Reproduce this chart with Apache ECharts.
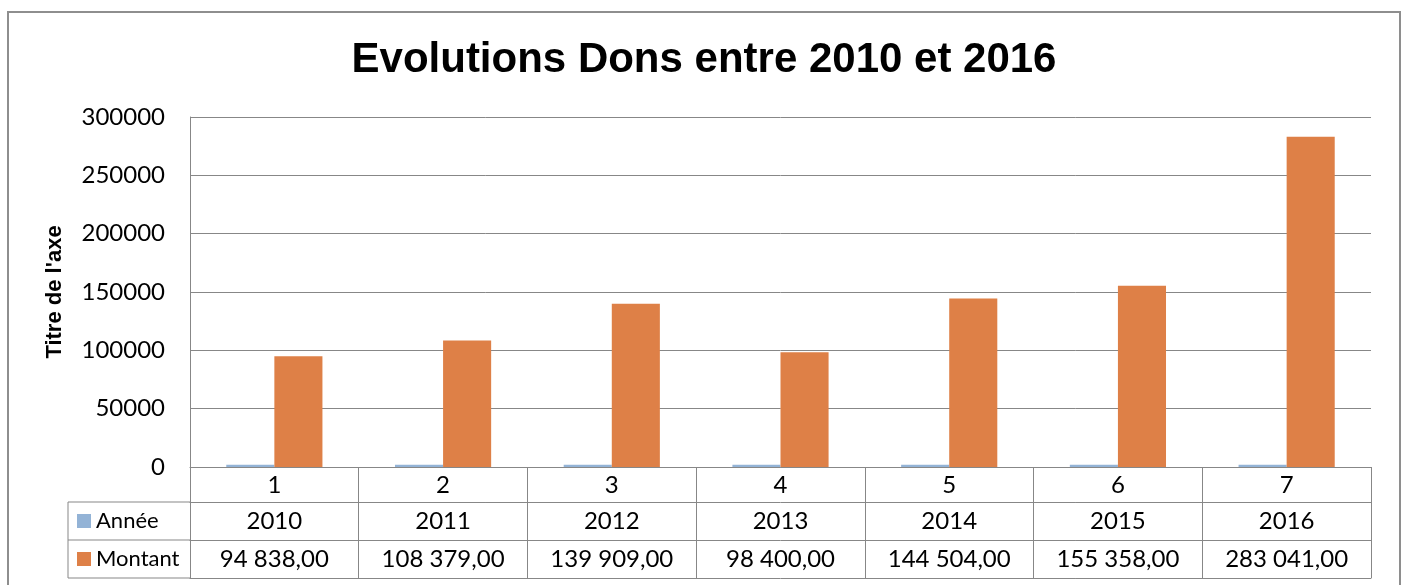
<!DOCTYPE html>
<html>
<head>
<meta charset="utf-8">
<script src="https://cdn.jsdelivr.net/npm/echarts@6/dist/echarts.min.js"></script>
<style>
html,body{margin:0;padding:0;background:#fff;}
#chart{width:1408px;height:585px;}
</style>
</head>
<body>
<div id="chart"></div>
<script>
const categories = ['1', '2', '3', '4', '5', '6', '7'];
const seriesNames = ['Année', 'Montant'];
const anneeValues = [2010, 2011, 2012, 2013, 2014, 2015, 2016];
const montantValues = [94838, 108379, 139909, 98400, 144504, 155358, 283041];
const yTicks = [0, 50000, 100000, 150000, 200000, 250000, 300000];

function frNumber(v) {
  const s = Math.round(v).toString().replace(/\B(?=(\d{3})+(?!\d))/g, ' ');
  return s + ',00';
}
const anneeLabels = anneeValues.map(String);
const montantLabels = montantValues.map(frNumber);

const gridColor = '#878787';
const font = 'Lato';
const labelSize = 24;
const legendSize = 22;

const chart = echarts.init(document.getElementById('chart'));

function tableAxis(data, offset, tickLen, margin, showLabel) {
  return {
    type: 'category',
    gridIndex: 0,
    position: 'bottom',
    offset: offset,
    data: data,
    boundaryGap: true,
    axisLine: { show: true, lineStyle: { color: gridColor, width: 1 } },
    axisTick: { show: tickLen > 0, length: tickLen, inside: false, alignWithLabel: false, interval: 0, lineStyle: { color: gridColor, width: 1 } },
    axisLabel: { show: showLabel, interval: 0, margin: margin, verticalAlign: 'middle', color: '#000', fontFamily: font, fontSize: labelSize },
    splitLine: { show: false }
  };
}

const option = {
  animation: false,
  backgroundColor: '#fff',
  title: {
    text: 'Evolutions Dons entre 2010 et 2016',
    left: 'center',
    top: 34,
    textStyle: { fontFamily: 'Liberation Sans', fontWeight: 'bold', fontSize: 42, color: '#000' }
  },
  grid: { left: 190, right: 37, top: 117, bottom: 118, containLabel: false },
  legend: [
    {
      data: [seriesNames[0]], left: 77, top: 510, padding: 0,
      icon: 'rect', itemWidth: 14, itemHeight: 14, selectedMode: false,
      textStyle: { fontFamily: font, fontSize: legendSize, color: '#000', lineHeight: 22 }
    },
    {
      data: [seriesNames[1]], left: 77, top: 548, padding: 0,
      icon: 'rect', itemWidth: 14, itemHeight: 14, selectedMode: false,
      textStyle: { fontFamily: font, fontSize: legendSize, color: '#000', lineHeight: 22 }
    }
  ],
  xAxis: [
    tableAxis(categories, 0, 35, 18, true),
    tableAxis(anneeLabels, 35, 38, 19, true),
    tableAxis(montantLabels, 73, 38, 19, true),
    tableAxis(categories, 111, 0, 0, false)
  ],
  yAxis: {
    type: 'value',
    min: yTicks[0],
    max: yTicks[yTicks.length - 1],
    interval: yTicks[1] - yTicks[0],
    name: "Titre de l'axe",
    nameLocation: 'middle',
    nameGap: 124,
    nameRotate: 90,
    nameTextStyle: { fontFamily: 'Liberation Sans', fontWeight: 'bold', fontSize: 22, color: '#000' },
    axisLine: { show: true, lineStyle: { color: gridColor, width: 1 } },
    axisTick: { show: false },
    axisLabel: { margin: 25, color: '#000', fontFamily: font, fontSize: labelSize, formatter: v => String(v) },
    splitLine: { show: true, lineStyle: { color: gridColor, width: 1 } }
  },
  series: [
    {
      name: seriesNames[0], type: 'bar', xAxisIndex: 0, data: anneeValues,
      barGap: '0%', barCategoryGap: '43%',
      itemStyle: { color: '#93b3d6' }
    },
    {
      name: seriesNames[1], type: 'bar', xAxisIndex: 0, data: montantValues,
      barGap: '0%', barCategoryGap: '43%',
      itemStyle: { color: '#de8047' }
    }
  ],
  graphic: [
    { type: 'rect', silent: true, shape: { x: 8, y: 12, width: 1392, height: 700 }, style: { fill: 'none', stroke: '#8e8e8e', lineWidth: 2 } },
    { type: 'line', silent: true, shape: { x1: 68, y1: 502, x2: 190, y2: 502 }, style: { stroke: gridColor, lineWidth: 1 } },
    { type: 'line', silent: true, shape: { x1: 68, y1: 540, x2: 190, y2: 540 }, style: { stroke: gridColor, lineWidth: 1 } },
    { type: 'line', silent: true, shape: { x1: 68, y1: 578, x2: 190, y2: 578 }, style: { stroke: gridColor, lineWidth: 1 } },
    { type: 'line', silent: true, shape: { x1: 68, y1: 502, x2: 68, y2: 578 }, style: { stroke: gridColor, lineWidth: 1 } }
  ]
};
chart.setOption(option);
</script>
</body>
</html>
